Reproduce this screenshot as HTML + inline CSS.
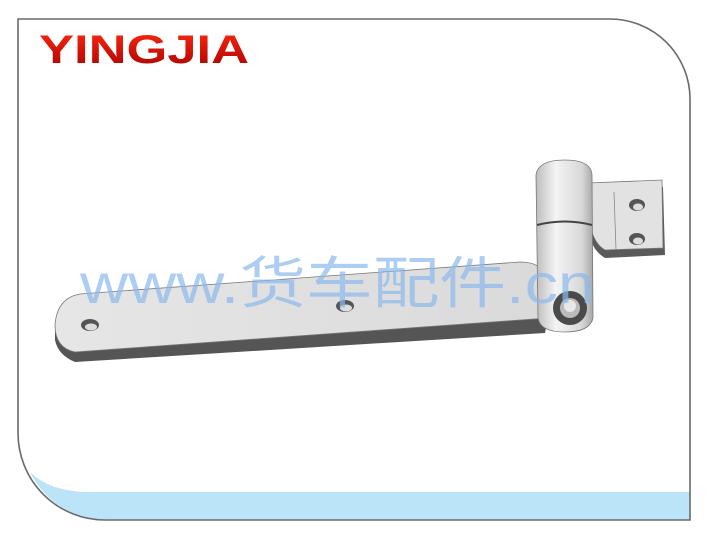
<!DOCTYPE html>
<html><head><meta charset="utf-8"><style>
html,body{margin:0;padding:0;background:#fff;width:709px;height:545px;overflow:hidden}
</style></head><body>
<svg width="709" height="545" viewBox="0 0 709 545" xmlns="http://www.w3.org/2000/svg">
<defs>
<linearGradient id="red" x1="0" y1="0" x2="0" y2="1"><stop offset="0" stop-color="#ff2a10"/><stop offset="1" stop-color="#a80000"/></linearGradient>
<linearGradient id="cyl" x1="0" y1="0" x2="1" y2="0"><stop offset="0" stop-color="#bdbdbd"/><stop offset="0.35" stop-color="#f4f4f4"/><stop offset="0.8" stop-color="#d8d8d8"/><stop offset="1" stop-color="#a8a8a8"/></linearGradient>
<linearGradient id="bar" x1="0" y1="0" x2="1" y2="0"><stop offset="0" stop-color="#e6e6e6"/><stop offset="1" stop-color="#dadada"/></linearGradient>
</defs>
<path d="M18,19 H610 A80,80 0 0 1 690,99 V520 H105 A87,87 0 0 1 18,433 Z" fill="#fff"/>
<path d="M30,472 Q50,492 90,492 H690 V520 H105 Q52,516 30,472 Z" fill="#bce4f8"/>
<path d="M18,19 H610 A80,80 0 0 1 690,99 V520 H105 A87,87 0 0 1 18,433 Z" fill="none" stroke="#6a6a6a" stroke-width="1.6"/>
<text x="39" y="63" font-family="Liberation Sans, sans-serif" font-weight="bold" font-size="40" fill="url(#red)" textLength="210" lengthAdjust="spacingAndGlyphs">YINGJIA</text>
<path d="M55,325 L55,340 Q58,355 75,362 L545,333 L548,318 Z" fill="#555"/>
<path d="M80,294 L520,262 Q540,262 545,275 L548,318 L75,352 Q55,348 55,325 Q57,298 80,294 Z" fill="url(#bar)" stroke="#777" stroke-width="0.8"/>
<ellipse cx="90" cy="325" rx="9" ry="6" fill="#555"/><ellipse cx="91" cy="327" rx="6" ry="3.5" fill="#ddd"/>
<ellipse cx="345" cy="306" rx="9" ry="6" fill="#555"/><ellipse cx="346" cy="308" rx="6" ry="3.5" fill="#ddd"/>
<path d="M590,190 L663,187 L665,255 L605,258 Q592,250 590,235 Z" fill="#5a5a5a"/>
<path d="M588,183 L662,180 L663,248 L605,250 Q594,244 590,225 Z" fill="#e2e2e2" stroke="#777" stroke-width="0.8"/>
<line x1="614" y1="192" x2="616" y2="250" stroke="#888" stroke-width="0.8"/>
<ellipse cx="637" cy="205" rx="8" ry="6" fill="#555"/><ellipse cx="638" cy="207" rx="5" ry="3.5" fill="#ddd"/>
<ellipse cx="637" cy="239" rx="8" ry="6" fill="#555"/><ellipse cx="638" cy="241" rx="5" ry="3.5" fill="#ddd"/>
<path d="M536,175 Q538,160 565,160 Q591,160 592,175 L593,318 Q590,332 565,332 Q540,332 538,318 Z" fill="url(#cyl)" stroke="#777" stroke-width="0.8"/>
<path d="M537,225 Q565,218 592,225" fill="none" stroke="#444" stroke-width="2"/>
<circle cx="570" cy="308" r="17" fill="#4a4a4a"/>
<circle cx="570" cy="308" r="10" fill="#bbb"/>
<circle cx="570" cy="306" r="6" fill="#e8e8e8"/>
<text x="80" y="303" font-family="Liberation Sans, 'Noto Sans CJK SC', sans-serif" font-size="56" fill="#8ab8ee" fill-opacity="0.7" textLength="515" lengthAdjust="spacingAndGlyphs">www.货车配件.cn</text>
</svg>
</body></html>
